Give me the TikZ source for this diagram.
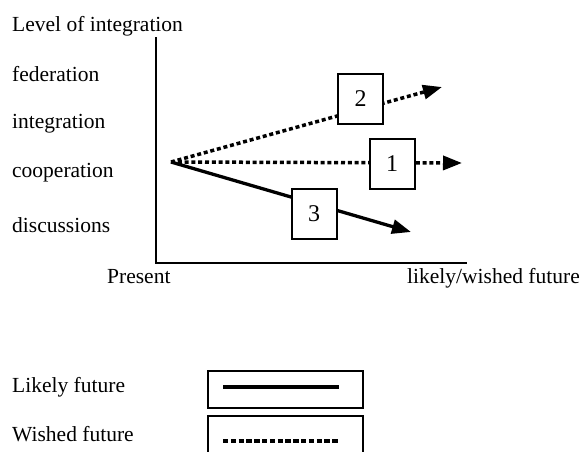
\documentclass[tikz,border=0pt]{standalone}
\usepackage{fontspec}
\setmainfont{Liberation Serif}
\usetikzlibrary{arrows.meta}
\begin{document}
\begin{tikzpicture}[x=1pt,y=-1pt,
  lbl/.style={anchor=base west,inner sep=0pt,font=\fontsize{21.5}{25}\selectfont},
  axisline/.style={line width=2pt},
  numbox/.style={draw,line width=2pt,fill=white,minimum width=45pt,minimum height=50pt,inner sep=0pt,font=\fontsize{24}{28}\selectfont},
  likely/.style={line width=3.3pt,-{Triangle[length=19pt,width=14pt]}},
  wished/.style={line width=3.5pt,dash pattern=on 4pt off 2.8pt,-{Triangle[length=19pt,width=14pt]}},
  legbox/.style={draw,line width=2pt,minimum width=155pt,minimum height=37pt,inner sep=0pt},
]
\clip (0,0) rectangle (582,451);
\fill[white] (0,0) rectangle (582,451);
% labels
\node[lbl] (lvl) at (12,31) {Level of integration};
\node[lbl] (fed) at (12,81) {federation};
\node[lbl] (int) at (12,128) {integration};
\node[lbl] (coop) at (12,177) {cooperation};
\node[lbl] (disc) at (12,232) {discussions};
\node[lbl] (pres) at (107,283) {Present};
\node[lbl,anchor=base east] (fut) at (580,283) {likely/wished future};
% axes
\coordinate (ytop) at (156,37);
\coordinate (orig) at (156,263);
\coordinate (xend) at (467,263);
\draw[axisline] (ytop) -- (orig) -- (xend);
% arrows
\coordinate (start) at (171,162);
\coordinate (e1) at (462,163);
\coordinate (e2) at (442,87);
\coordinate (e3) at (411,232);
\draw[wished] (start) -- (e2);
\draw[wished] (start) -- (e1);
\draw[likely] (start) -- (e3);
\node[numbox] (b2) at (360.5,98.5) {2};
\node[numbox] (b1) at (392,164) {1};
\node[numbox] (b3) at (314,214) {3};
% legend
\node[lbl] (lik) at (12,392) {Likely future};
\node[lbl] (wsh) at (12,441) {Wished future};
\node[legbox] (lb1) at (285.5,389.5) {};
\node[legbox,minimum height=44pt] (lb2) at (285.5,438) {};
\coordinate (l1a) at (223,387);
\coordinate (l1b) at (339,387);
\coordinate (l2a) at (223,441);
\coordinate (l2b) at (339,441);
\draw[line width=3.8pt] (l1a) -- (l1b);
\draw[line width=3.8pt,dash pattern=on 5.3pt off 2.5pt] (l2a) -- (l2b);
\end{tikzpicture}
\end{document}
